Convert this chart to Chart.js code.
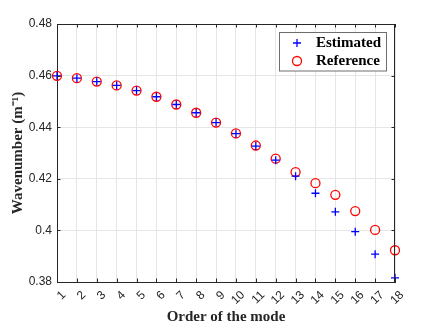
<!DOCTYPE html>
<html><head><meta charset="utf-8">
<script src="https://cdn.jsdelivr.net/npm/chart.js@4/dist/chart.umd.min.js"></script>
<style>html,body{margin:0;padding:0;background:#fff}</style>
</head><body>
<canvas id="c" width="436" height="327" style="width:436px;height:327px;display:block"></canvas>
<script>
const modeOrder = [1,2,3,4,5,6,7,8,9,10,11,12,13,14,15,16,17,18];
const xTickLabels = ['1','2','3','4','5','6','7','8','9','10','11','12','13','14','15','16','17','18'];
const yTickValues = [0.38,0.40,0.42,0.44,0.46,0.48];
const yTickLabels = ['0.38','0.4','0.42','0.44','0.46','0.48'];
const estimated = [0.4599,0.4590,0.4577,0.4562,0.4542,0.4518,0.4488,0.4456,0.4418,0.4375,0.4327,0.4272,0.4210,0.4144,0.4072,0.3995,0.3908,0.3816];
const reference = [0.4599,0.4590,0.4577,0.4562,0.4542,0.4518,0.4488,0.4456,0.4418,0.4376,0.4329,0.4278,0.4226,0.4183,0.4138,0.4075,0.4002,0.3923];
const seriesNames = ['Estimated','Reference'];
const xTitle = 'Order of the mode';
const yTitle = 'Wavenumber (m\u207B\u00B9)';

const axisColor = '#262626';
const gridColor = '#e6e6e6';

const boxPlugin = {
  id: 'boxPlugin',
  afterDatasetsDraw(chart) {
    const {ctx, chartArea: a, scales: {x, y}} = chart;
    ctx.save();
    ctx.strokeStyle = axisColor;
    ctx.lineWidth = 1;
    ctx.beginPath();
    ctx.moveTo(a.left, a.top + 0.5); ctx.lineTo(a.right, a.top + 0.5);
    ctx.moveTo(a.right - 0.5, a.top); ctx.lineTo(a.right - 0.5, a.bottom);
    const tl = 3.5;
    modeOrder.forEach(v => {
      const px = Math.round(x.getPixelForValue(v)) + 0.5;
      ctx.moveTo(px, a.bottom); ctx.lineTo(px, a.bottom - tl);
      ctx.moveTo(px, a.top); ctx.lineTo(px, a.top + tl);
    });
    yTickValues.forEach(v => {
      const py = Math.round(y.getPixelForValue(v)) + 0.5;
      ctx.moveTo(a.left, py); ctx.lineTo(a.left + tl, py);
      ctx.moveTo(a.right, py); ctx.lineTo(a.right - tl, py);
    });
    ctx.stroke();

    const lx = 279.5, ly = 32.5, lw = 107, lh = 38.5;
    ctx.fillStyle = '#fff';
    ctx.fillRect(lx, ly, lw, lh);
    ctx.strokeStyle = '#6e6e6e';
    ctx.strokeRect(lx, ly, lw, lh);
    const ds = chart.data.datasets;
    const rows = [43, 61];
    ctx.font = 'bold 15px "Liberation Serif", "Times New Roman", serif';
    ctx.textBaseline = 'middle';
    ctx.textAlign = 'left';
    ds.forEach((d, i) => {
      const cy = rows[i];
      ctx.strokeStyle = d.borderColor;
      ctx.lineWidth = 1.3;
      ctx.beginPath();
      if (d.pointStyle === 'cross') {
        ctx.moveTo(297 - 4, cy); ctx.lineTo(297 + 4, cy);
        ctx.moveTo(297, cy - 4); ctx.lineTo(297, cy + 4);
      } else {
        ctx.arc(297, cy, 4.5, 0, Math.PI * 2);
      }
      ctx.stroke();
      ctx.fillStyle = '#000';
      ctx.fillText(d.label, 316, cy + 0.5);
    });
    ctx.restore();
  }
};

new Chart(document.getElementById('c'), {
  type: 'scatter',
  data: {
    datasets: [
      {
        label: seriesNames[0],
        data: modeOrder.map((m, i) => ({x: m, y: estimated[i]})),
        pointStyle: 'cross',
        pointRadius: 4,
        borderColor: '#0000ff',
        backgroundColor: '#0000ff',
        borderWidth: 1.3,
        clip: false
      },
      {
        label: seriesNames[1],
        data: modeOrder.map((m, i) => ({x: m, y: reference[i]})),
        pointStyle: 'circle',
        pointRadius: 4.5,
        borderColor: '#ff0000',
        backgroundColor: 'rgba(0,0,0,0)',
        borderWidth: 1.3,
        clip: false
      }
    ]
  },
  options: {
    responsive: false,
    animation: false,
    devicePixelRatio: 1,
    layout: {padding: {top: 24, right: 41, left: 0, bottom: 0}},
    plugins: {legend: {display: false}, tooltip: {enabled: false}},
    scales: {
      x: {
        type: 'linear', min: 1, max: 18,
        afterBuildTicks: s => { s.ticks = modeOrder.map(v => ({value: v})); },
        afterFit: s => { s.height = 45; },
        ticks: {
          autoSkip: false, maxRotation: 45, minRotation: 45,
          labelOffset: 7, padding: 6,
          color: axisColor,
          font: {family: '"Liberation Sans", Arial, sans-serif', size: 12},
          callback: (v) => xTickLabels[modeOrder.indexOf(v)]
        },
        grid: {color: gridColor, drawTicks: false, tickLength: 0},
        border: {color: axisColor, width: 1},
        title: {
          display: true, text: xTitle, color: axisColor,
          font: {family: '"Liberation Serif", "Times New Roman", serif', size: 15, weight: 'bold'},
          padding: {top: 0, bottom: 1}
        }
      },
      y: {
        min: 0.38, max: 0.48,
        afterBuildTicks: s => { s.ticks = yTickValues.map(v => ({value: v})); },
        afterFit: s => { s.width = 57; },
        ticks: {
          color: axisColor, padding: 5,
          font: {family: '"Liberation Sans", Arial, sans-serif', size: 12},
          callback: (v) => yTickLabels[yTickValues.findIndex(t => Math.abs(t - v) < 1e-9)]
        },
        grid: {color: gridColor, drawTicks: false, tickLength: 0},
        border: {color: axisColor, width: 1},
        title: {
          display: true, text: yTitle, color: axisColor,
          font: {family: '"Liberation Serif", "Times New Roman", serif', size: 15, weight: 'bold'},
          padding: {top: 9, bottom: 0}
        }
      }
    }
  },
  plugins: [boxPlugin]
});
</script>
</body></html>
